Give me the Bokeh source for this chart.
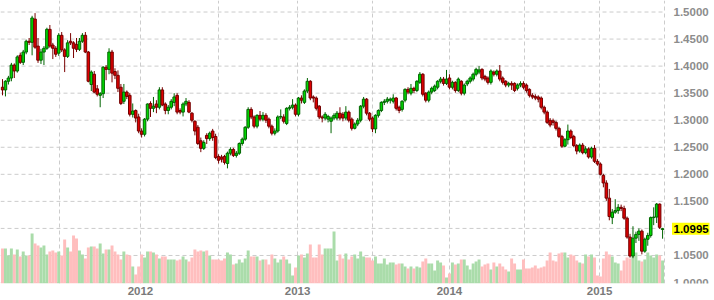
from bokeh.plotting import figure
from bokeh.models import Range1d, FixedTicker, ColumnDataSource
from bokeh.core.properties import value
from bokeh.embed import file_html
from bokeh.resources import INLINE

# Weekly EUR/USD candles
opens = [1.361, 1.356, 1.372, 1.378, 1.402, 1.391, 1.420, 1.407, 1.426, 1.446,
         1.444, 1.487, 1.437, 1.411, 1.426, 1.433, 1.468, 1.439, 1.433, 1.424,
         1.457, 1.430, 1.418, 1.446, 1.443, 1.440, 1.431, 1.446, 1.457, 1.426,
         1.366, 1.385, 1.358, 1.346, 1.349, 1.398, 1.394, 1.426, 1.390, 1.383,
         1.361, 1.335, 1.352, 1.346, 1.311, 1.318, 1.306, 1.280, 1.274, 1.302,
         1.331, 1.322, 1.330, 1.324, 1.356, 1.330, 1.318, 1.324, 1.333, 1.346,
         1.318, 1.315, 1.330, 1.333, 1.313, 1.298, 1.287, 1.262, 1.248, 1.272,
         1.266, 1.280, 1.270, 1.233, 1.232, 1.233, 1.220, 1.239, 1.246, 1.235,
         1.239, 1.257, 1.265, 1.287, 1.320, 1.306, 1.289, 1.309, 1.302, 1.309,
         1.302, 1.289, 1.276, 1.280, 1.306, 1.306, 1.294, 1.322, 1.324, 1.328,
         1.311, 1.341, 1.333, 1.354, 1.372, 1.343, 1.341, 1.326, 1.306, 1.304,
         1.302, 1.298, 1.304, 1.304, 1.313, 1.311, 1.304, 1.315, 1.302, 1.285,
         1.293, 1.300, 1.326, 1.339, 1.313, 1.304, 1.284, 1.309, 1.318, 1.333,
         1.335, 1.337, 1.335, 1.341, 1.324, 1.320, 1.337, 1.357, 1.350, 1.359,
         1.355, 1.370, 1.385, 1.350, 1.337, 1.352, 1.355, 1.361, 1.372, 1.376,
         1.368, 1.378, 1.361, 1.370, 1.355, 1.372, 1.350, 1.367, 1.372, 1.376,
         1.385, 1.389, 1.394, 1.381, 1.378, 1.370, 1.389, 1.385, 1.391, 1.378,
         1.372, 1.365, 1.368, 1.368, 1.359, 1.365, 1.368, 1.365, 1.357, 1.346,
         1.344, 1.343, 1.341, 1.324, 1.315, 1.300, 1.299, 1.296, 1.285, 1.270,
         1.252, 1.264, 1.280, 1.270, 1.253, 1.243, 1.254, 1.240, 1.247, 1.232,
         1.248, 1.224, 1.219, 1.198, 1.184, 1.156, 1.120, 1.130, 1.133, 1.139,
         1.137, 1.119, 1.084, 1.049, 1.082, 1.089, 1.095, 1.058, 1.080, 1.087,
         1.120, 1.121, 1.145, 1.098]
highs = [1.376, 1.374, 1.382, 1.406, 1.405, 1.420, 1.425, 1.430, 1.449, 1.452,
         1.493, 1.498, 1.452, 1.432, 1.437, 1.471, 1.476, 1.443, 1.437, 1.461,
         1.463, 1.433, 1.448, 1.461, 1.446, 1.452, 1.452, 1.461, 1.463, 1.428,
         1.392, 1.391, 1.365, 1.352, 1.400, 1.402, 1.433, 1.430, 1.396, 1.392,
         1.367, 1.367, 1.355, 1.350, 1.331, 1.320, 1.312, 1.285, 1.304, 1.331,
         1.335, 1.343, 1.337, 1.361, 1.361, 1.333, 1.328, 1.339, 1.350, 1.350,
         1.322, 1.333, 1.341, 1.337, 1.315, 1.300, 1.291, 1.268, 1.263, 1.276,
         1.279, 1.284, 1.275, 1.237, 1.236, 1.236, 1.242, 1.250, 1.249, 1.243,
         1.259, 1.268, 1.289, 1.324, 1.324, 1.309, 1.311, 1.317, 1.315, 1.313,
         1.305, 1.292, 1.285, 1.309, 1.320, 1.311, 1.324, 1.328, 1.339, 1.331,
         1.343, 1.346, 1.357, 1.378, 1.374, 1.346, 1.344, 1.328, 1.309, 1.315,
         1.310, 1.307, 1.313, 1.317, 1.324, 1.315, 1.326, 1.318, 1.305, 1.296,
         1.304, 1.328, 1.343, 1.341, 1.315, 1.307, 1.311, 1.320, 1.335, 1.339,
         1.343, 1.342, 1.348, 1.343, 1.327, 1.337, 1.359, 1.361, 1.367, 1.362,
         1.374, 1.389, 1.387, 1.352, 1.355, 1.362, 1.366, 1.374, 1.380, 1.380,
         1.393, 1.385, 1.373, 1.372, 1.379, 1.374, 1.368, 1.375, 1.381, 1.388,
         1.397, 1.400, 1.396, 1.384, 1.381, 1.394, 1.392, 1.394, 1.402, 1.381,
         1.374, 1.371, 1.372, 1.370, 1.368, 1.372, 1.372, 1.368, 1.359, 1.350,
         1.348, 1.346, 1.344, 1.327, 1.318, 1.304, 1.303, 1.299, 1.288, 1.273,
         1.267, 1.292, 1.283, 1.273, 1.256, 1.257, 1.258, 1.252, 1.250, 1.251,
         1.254, 1.228, 1.222, 1.201, 1.189, 1.173, 1.136, 1.154, 1.145, 1.144,
         1.142, 1.122, 1.090, 1.104, 1.094, 1.100, 1.098, 1.083, 1.092, 1.122,
         1.139, 1.147, 1.146, 1.101]
lows = [1.346, 1.344, 1.366, 1.372, 1.378, 1.388, 1.404, 1.402, 1.422, 1.439,
        1.420, 1.432, 1.406, 1.404, 1.402, 1.430, 1.434, 1.413, 1.417, 1.419,
        1.426, 1.389, 1.415, 1.439, 1.415, 1.426, 1.428, 1.443, 1.424, 1.370,
        1.354, 1.350, 1.344, 1.324, 1.341, 1.374, 1.385, 1.370, 1.376, 1.352,
        1.328, 1.330, 1.339, 1.307, 1.305, 1.296, 1.276, 1.268, 1.270, 1.298,
        1.306, 1.315, 1.313, 1.320, 1.326, 1.311, 1.311, 1.320, 1.326, 1.311,
        1.311, 1.307, 1.326, 1.313, 1.296, 1.272, 1.254, 1.241, 1.245, 1.256,
        1.262, 1.262, 1.228, 1.220, 1.222, 1.218, 1.211, 1.235, 1.232, 1.231,
        1.236, 1.253, 1.262, 1.284, 1.302, 1.285, 1.285, 1.298, 1.298, 1.295,
        1.285, 1.272, 1.272, 1.277, 1.302, 1.294, 1.291, 1.318, 1.320, 1.307,
        1.307, 1.331, 1.330, 1.350, 1.337, 1.333, 1.318, 1.302, 1.296, 1.300,
        1.296, 1.276, 1.300, 1.300, 1.300, 1.298, 1.300, 1.296, 1.281, 1.283,
        1.289, 1.296, 1.322, 1.309, 1.298, 1.278, 1.276, 1.305, 1.315, 1.328,
        1.331, 1.331, 1.331, 1.318, 1.313, 1.316, 1.333, 1.348, 1.346, 1.350,
        1.352, 1.367, 1.344, 1.333, 1.333, 1.348, 1.352, 1.357, 1.368, 1.364,
        1.365, 1.357, 1.357, 1.351, 1.352, 1.346, 1.346, 1.363, 1.368, 1.372,
        1.381, 1.385, 1.374, 1.372, 1.366, 1.366, 1.381, 1.381, 1.372, 1.366,
        1.361, 1.361, 1.356, 1.352, 1.355, 1.361, 1.357, 1.351, 1.342, 1.339,
        1.337, 1.333, 1.320, 1.311, 1.293, 1.287, 1.290, 1.281, 1.267, 1.249,
        1.250, 1.255, 1.265, 1.250, 1.237, 1.240, 1.237, 1.237, 1.229, 1.229,
        1.221, 1.216, 1.198, 1.176, 1.151, 1.115, 1.108, 1.127, 1.127, 1.132,
        1.116, 1.081, 1.046, 1.045, 1.073, 1.077, 1.052, 1.055, 1.068, 1.083,
        1.106, 1.110, 1.099, 1.081]
closes = [1.356, 1.372, 1.378, 1.402, 1.391, 1.417, 1.407, 1.426, 1.446, 1.444,
          1.489, 1.435, 1.411, 1.426, 1.433, 1.468, 1.437, 1.433, 1.422, 1.457,
          1.430, 1.418, 1.443, 1.443, 1.433, 1.431, 1.446, 1.457, 1.426, 1.372,
          1.389, 1.352, 1.348, 1.349, 1.398, 1.394, 1.426, 1.387, 1.383, 1.359,
          1.331, 1.352, 1.344, 1.311, 1.317, 1.304, 1.280, 1.274, 1.302, 1.330,
          1.322, 1.326, 1.324, 1.356, 1.328, 1.318, 1.324, 1.335, 1.343, 1.315,
          1.315, 1.330, 1.335, 1.315, 1.300, 1.280, 1.257, 1.248, 1.259, 1.266,
          1.276, 1.268, 1.231, 1.226, 1.228, 1.222, 1.239, 1.246, 1.235, 1.239,
          1.257, 1.265, 1.287, 1.320, 1.306, 1.289, 1.309, 1.302, 1.309, 1.300,
          1.289, 1.276, 1.280, 1.306, 1.307, 1.298, 1.322, 1.324, 1.328, 1.311,
          1.341, 1.337, 1.354, 1.372, 1.341, 1.341, 1.322, 1.306, 1.304, 1.311,
          1.307, 1.304, 1.309, 1.313, 1.304, 1.304, 1.315, 1.300, 1.285, 1.293,
          1.300, 1.326, 1.339, 1.313, 1.302, 1.284, 1.309, 1.318, 1.333, 1.335,
          1.339, 1.339, 1.341, 1.322, 1.318, 1.335, 1.357, 1.352, 1.359, 1.355,
          1.372, 1.385, 1.348, 1.337, 1.352, 1.359, 1.363, 1.372, 1.376, 1.368,
          1.376, 1.361, 1.370, 1.355, 1.376, 1.350, 1.365, 1.372, 1.378, 1.385,
          1.394, 1.393, 1.378, 1.376, 1.370, 1.391, 1.385, 1.391, 1.376, 1.370,
          1.365, 1.368, 1.365, 1.355, 1.365, 1.368, 1.361, 1.355, 1.346, 1.343,
          1.341, 1.339, 1.324, 1.315, 1.296, 1.291, 1.296, 1.285, 1.270, 1.252,
          1.264, 1.280, 1.268, 1.253, 1.243, 1.254, 1.240, 1.247, 1.232, 1.248,
          1.224, 1.219, 1.200, 1.184, 1.156, 1.122, 1.130, 1.133, 1.139, 1.137,
          1.119, 1.084, 1.049, 1.082, 1.089, 1.095, 1.058, 1.080, 1.087, 1.120,
          1.121, 1.145, 1.102, 1.0995]
volumes = [35, 35, 28, 35, 29, 34, 27, 32, 28, 28, 50, 40, 38, 36, 38, 29, 32, 33, 31, 32,
           28, 44, 36, 32, 48, 45, 33, 29, 25, 36, 37, 37, 35, 40, 30, 34, 34,
           38, 32, 29, 24, 32, 29, 28, 17, 9, 17, 29, 26, 32, 32, 31, 29, 25, 27, 27,
           24, 24, 24, 23, 24, 27, 24, 22, 26, 34, 32, 33, 32, 33, 28, 24, 24,
           24,
           23, 25, 31, 29, 19, 20, 24, 21, 25, 33, 27, 27, 27, 23, 24, 24, 19, 29, 25,
           21, 24, 27, 24, 20, 8, 16, 28, 29, 26, 30, 39, 26, 26, 39, 29, 35, 35,
           35, 52,
           23, 29, 25, 30, 24, 27, 29, 25, 32, 27, 26, 26, 23, 27, 20, 20, 25, 19, 21,
           21, 19, 20, 20, 17, 15, 17, 15, 17, 16, 22, 25, 20, 20, 13, 23, 21,
           18, 6, 10, 21, 19, 20, 24, 24, 18, 14, 20, 22, 24, 17, 19, 20, 14, 21, 17,
           20, 17, 14, 12, 25, 20, 14, 14, 24, 15, 15, 16, 18, 15, 16, 17, 23, 31,
           23, 22, 30, 31, 31, 26, 29, 28, 23, 21, 20, 29, 27, 29, 26, 8, 7, 25, 32,
           29, 27, 21, 20, 13, 23, 26, 25, 31, 31, 23, 22, 24, 31, 28, 26, 29, 28, 23]

# Axis ticks
x_tick_positions = [19.3, 46.6, 73.0, 99.7, 125.0, 151.0, 176.4, 201.7]
x_tick_labels = ["", "2012", "", "2013", "", "2014", "", "2015"]
y_tick_values = [1.00, 1.05, 1.10, 1.15, 1.20, 1.25, 1.30, 1.35, 1.40, 1.45, 1.50]

# ---- layout constants (pixels) ----
W, H = 714, 300
FRAME_H = 283            # price/volume area height
PX_PER_BAR = 2.96        # horizontal pixels per weekly bar
FIRST_BAR_PX = 2.0       # centre of first bar from the left edge
LABEL_GAP_PX = 9         # gap between chart edge and right-hand labels

n = len(closes)
idx = list(range(n))
up = [c >= o for o, c in zip(opens, closes)]

x0 = -FIRST_BAR_PX / PX_PER_BAR
x1 = x0 + W / PX_PER_BAR
edge = n - 0.35                          # right border of the chart area
y0, y1 = 0.9982, 1.5213
price_per_px = (y1 - y0) / FRAME_H
label_x = edge + LABEL_GAP_PX / PX_PER_BAR

src = ColumnDataSource(dict(
    x=idx, h=highs, l=lows, v=volumes,
    top=[max(o, c) for o, c in zip(opens, closes)],
    bot=[min(o, c) for o, c in zip(opens, closes)],
    body=["#00d800" if u else "#e00000" for u in up],
    edge=["#006400" if u else "#720000" for u in up],
    wick=["#006400" if u else "#7a0000" for u in up],
    vcol=["#aadcaa" if u else "#ffbebe" for u in up],
))

p = figure(width=W, height=H, output_backend="svg", toolbar_location=None,
           x_range=Range1d(x0, x1), y_range=Range1d(y0, y1),
           y_axis_location=None, x_axis_location="below",
           min_border_left=0, min_border_top=0, min_border_right=0,
           min_border_bottom=H - FRAME_H)
p.outline_line_color = None
p.background_fill_color = "white"
p.border_fill_color = "white"
p.extra_y_ranges = {"vol": Range1d(0, FRAME_H)}

# horizontal dashed grid, stopping at the chart edge
p.ygrid.visible = False
p.segment(x0=[x0] * len(y_tick_values), y0=y_tick_values,
          x1=[edge] * len(y_tick_values), y1=y_tick_values,
          line_color="#cccccc", line_dash="4 3", line_width=1)

# vertical dashed grid
p.xgrid.grid_line_color = "#cccccc"
p.xgrid.grid_line_dash = "4 3"
p.xgrid.ticker = FixedTicker(ticks=x_tick_positions + [edge])

# volume
p.vbar(x="x", top="v", bottom=0, width=1.0, y_range_name="vol", source=src,
       fill_color="vcol", line_color=None)
# wicks
p.segment(x0="x", y0="l", x1="x", y1="h", source=src, line_color="wick", line_width=1)
# bodies
p.vbar(x="x", top="top", bottom="bot", width=0.86, source=src,
       fill_color="body", line_color="edge", line_width=1)

# right-hand price labels
p.text(x=[label_x] * len(y_tick_values), y=y_tick_values,
       text=[f"{v:.4f}" for v in y_tick_values],
       text_font=value("Liberation Sans"), text_font_size="11.5px", text_font_style="bold",
       text_color="#8c8c8c", text_align="left", text_baseline="middle")

# last price tag
last = closes[-1]
p.quad(left=[label_x - 1.5 / PX_PER_BAR], right=[label_x + 36 / PX_PER_BAR],
       bottom=[last - 6 * price_per_px], top=[last + 6 * price_per_px],
       fill_color="#ffff00", line_color=None)
p.text(x=[label_x], y=[last], text=[f"{last:.4f}"],
       text_font=value("Liberation Sans"), text_font_size="11.5px", text_font_style="bold",
       text_color="#000000", text_align="left", text_baseline="middle")

# x axis (year labels)
xa = p.xaxis[0]
xa.ticker = FixedTicker(ticks=[t for t, lab in zip(x_tick_positions, x_tick_labels) if lab])
xa.major_label_overrides = {t: lab for t, lab in zip(x_tick_positions, x_tick_labels) if lab}
xa.axis_line_color = None
xa.major_tick_line_color = None
xa.minor_tick_line_color = None
xa.major_tick_out = 0
xa.major_tick_in = 0
xa.major_label_standoff = 3
xa.major_label_text_font = "Liberation Sans"
xa.major_label_text_font_size = "11.5px"
xa.major_label_text_font_style = "bold"
xa.major_label_text_color = "#7a7a7a"

open("out.html", "w").write(file_html(p, INLINE))
